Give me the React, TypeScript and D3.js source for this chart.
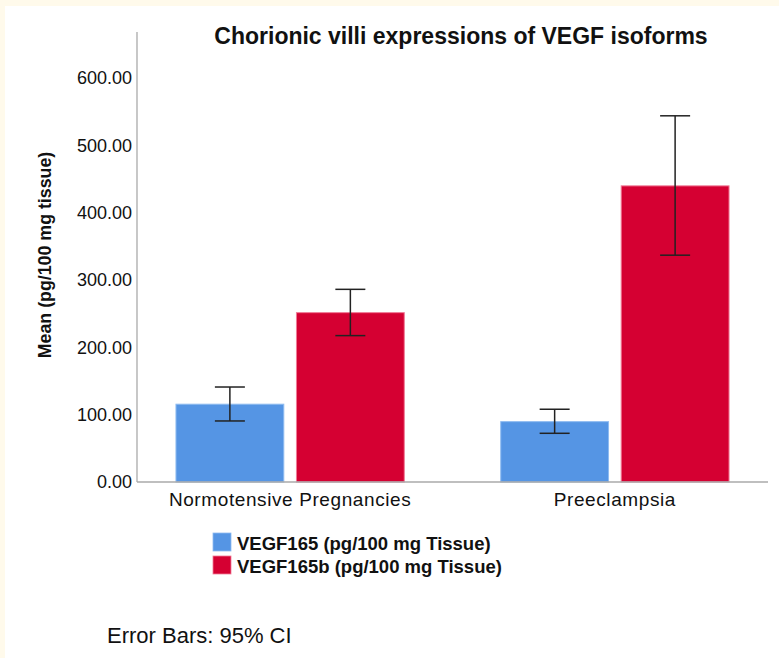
import React from "react";
import * as d3 from "d3";

const categories = ["Normotensive Pregnancies", "Preeclampsia"];
const seriesNames = ["VEGF165 (pg/100 mg Tissue)", "VEGF165b (pg/100 mg Tissue)"];
const vegf165Mean = [115.5, 89.6];
const vegf165Low = [90.6, 72.3];
const vegf165High = [141, 108];
const vegf165bMean = [251.4, 439.6];
const vegf165bLow = [217.3, 336.7];
const vegf165bHigh = [286, 543.6];
const yTicks = [0, 100, 200, 300, 400, 500, 600];
const colors = ["#5595E4", "#D50032"];
const borders = ["#8FBBF0", "#F07A96"];

const W = 779;
const H = 658;
const FONT = "'Liberation Sans', Arial, sans-serif";

export default function App() {
  const x0 = d3.scaleBand<string>().domain(categories).range([137, 768]).paddingInner(0.297).paddingOuter(0.12);
  const x1 = d3.scaleBand<number>().domain([0, 1]).range([0, x0.bandwidth()]).paddingInner(0.105);
  const y = d3.scaleLinear().domain([0, 668]).range([482, 32]);

  const series = [
    { mean: vegf165Mean, low: vegf165Low, high: vegf165High },
    { mean: vegf165bMean, low: vegf165bLow, high: vegf165bHigh },
  ];

  return (
    <svg width={W} height={H} style={{ position: "absolute", left: 0, top: 0 }}>
      <rect x={0} y={0} width={W} height={H} fill="#FFFAEB" />
      <rect x={5} y={6} width={W - 5} height={H - 6} fill="#ffffff" />
      <text x={461} y={44} textAnchor="middle" fontFamily={FONT} fontWeight="bold" fontSize={23} fill="#111">
        Chorionic villi expressions of VEGF isoforms
      </text>
      {/* y axis */}
      <line x1={137} x2={137} y1={y(0)} y2={y(668)} stroke="#aaaaaa" strokeWidth={1.3} />
      {yTicks.map((t) => (
        <text key={t} x={132} y={y(t)} dy="0.36em" textAnchor="end" fontFamily={FONT} fontSize={18} fill="#111">
          {t.toFixed(2)}
        </text>
      ))}
      <text
        transform={`translate(51,${(y(0) + y(668)) / 2 - 2}) rotate(-90)`}
        textAnchor="middle"
        fontFamily={FONT}
        fontWeight="bold"
        fontSize={17.8}
        fill="#111"
      >
        Mean (pg/100 mg tissue)
      </text>
      {/* bars */}
      {categories.map((c, i) => (
        <g key={c} transform={`translate(${x0(c)},0)`}>
          {series.map((s, j) => {
            const bx = x1(j)!;
            const bw = x1.bandwidth();
            const cx = bx + bw / 2;
            return (
              <g key={j}>
                <rect x={bx} y={y(s.mean[i])} width={bw} height={y(0) - y(s.mean[i])} fill={colors[j]} stroke={borders[j]} strokeWidth={1} />
                <line x1={cx} x2={cx} y1={y(s.low[i])} y2={y(s.high[i])} stroke="#222" strokeWidth={1.5} />
                <line x1={cx - 15} x2={cx + 15} y1={y(s.low[i])} y2={y(s.low[i])} stroke="#222" strokeWidth={1.5} />
                <line x1={cx - 15} x2={cx + 15} y1={y(s.high[i])} y2={y(s.high[i])} stroke="#222" strokeWidth={1.5} />
              </g>
            );
          })}
          <text x={x0.bandwidth() / 2} y={506} textAnchor="middle" fontFamily={FONT} fontSize={19} letterSpacing={0.6} fill="#111">
            {c}
          </text>
        </g>
      ))}
      {/* x axis */}
      <line x1={137} x2={768} y1={y(0)} y2={y(0)} stroke="#aaaaaa" strokeWidth={1.5} />
      {/* legend */}
      {seriesNames.map((n, j) => (
        <g key={n} transform={`translate(213,${533 + j * 23})`}>
          <rect x={0} y={0} width={18} height={18} fill={colors[j]} stroke={borders[j]} strokeWidth={0.8} />
          <text x={24} y={17} fontFamily={FONT} fontWeight="bold" fontSize={18.5} fill="#111">
            {n}
          </text>
        </g>
      ))}
      <text x={107} y={643} fontFamily={FONT} fontSize={22} fill="#111">
        Error Bars: 95% CI
      </text>
    </svg>
  );
}
